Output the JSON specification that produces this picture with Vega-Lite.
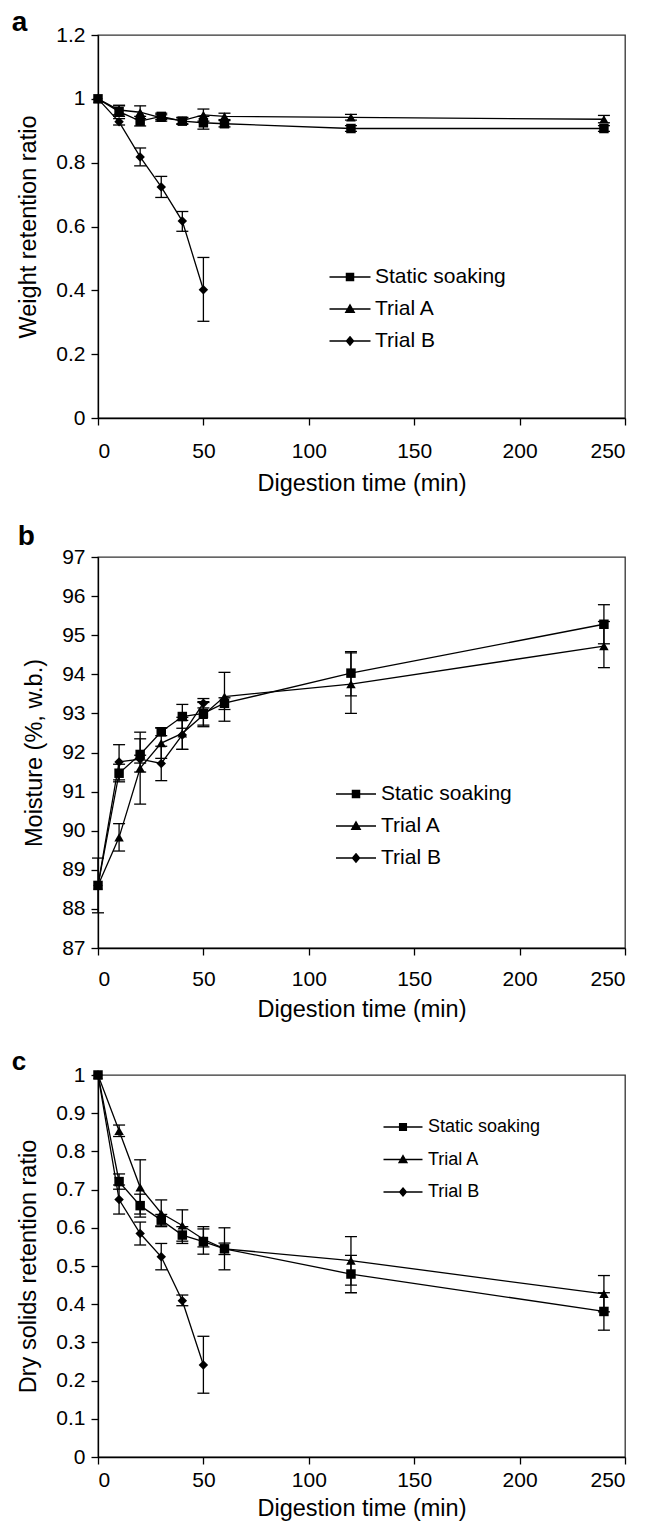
{
  "$schema": "https://vega.github.io/schema/vega-lite/v6.json",
  "padding": {"left": 11, "top": 8, "right": 5, "bottom": 0},
  "background": "white",
  "config": {
    "font": "Liberation Sans",
    "view": {"stroke": "#333", "strokeWidth": 1.3},
    "axis": {"grid": false, "domainColor": "black", "domainWidth": 1.3, "tickColor": "black", "tickWidth": 1.3, "tickSize": 7, "labelColor": "black", "titleColor": "black", "labelFontSize": 21, "titleFontSize": 23.5, "titleFontWeight": "normal", "labelPadding": 6, "labelOverlap": false, "labelFont": "Liberation Sans", "titleFont": "Liberation Sans"},
    "axisY": {"titlePadding": 15},
    "axisX": {"titlePadding": 8},
    "title": {"anchor": "start", "frame": "bounds", "fontSize": 28, "fontWeight": "bold", "font": "Liberation Sans", "color": "black", "baseline": "alphabetic"}
  },
  "datasets": {
    "a": [
      {"s": "Static soaking", "t": 0, "v": 1.0},
      {"s": "Static soaking", "t": 10, "v": 0.96, "lo": 0.945, "hi": 0.978},
      {"s": "Static soaking", "t": 20, "v": 0.93, "lo": 0.915, "hi": 0.945},
      {"s": "Static soaking", "t": 30, "v": 0.945, "lo": 0.935, "hi": 0.955},
      {"s": "Static soaking", "t": 40, "v": 0.93, "lo": 0.92, "hi": 0.94},
      {"s": "Static soaking", "t": 50, "v": 0.925, "lo": 0.905, "hi": 0.945},
      {"s": "Static soaking", "t": 60, "v": 0.922, "lo": 0.912, "hi": 0.932},
      {"s": "Static soaking", "t": 120, "v": 0.907, "lo": 0.898, "hi": 0.916},
      {"s": "Static soaking", "t": 240, "v": 0.907, "lo": 0.898, "hi": 0.916},
      {"s": "Trial A", "t": 0, "v": 1.0},
      {"s": "Trial A", "t": 10, "v": 0.965, "lo": 0.95, "hi": 0.98},
      {"s": "Trial A", "t": 20, "v": 0.958, "lo": 0.938, "hi": 0.978},
      {"s": "Trial A", "t": 30, "v": 0.94, "lo": 0.93, "hi": 0.95},
      {"s": "Trial A", "t": 40, "v": 0.932, "lo": 0.922, "hi": 0.942},
      {"s": "Trial A", "t": 50, "v": 0.95, "lo": 0.93, "hi": 0.968},
      {"s": "Trial A", "t": 60, "v": 0.945, "lo": 0.935, "hi": 0.955},
      {"s": "Trial A", "t": 120, "v": 0.942, "lo": 0.933, "hi": 0.951},
      {"s": "Trial A", "t": 240, "v": 0.936, "lo": 0.925, "hi": 0.948},
      {"s": "Trial B", "t": 0, "v": 1.0},
      {"s": "Trial B", "t": 10, "v": 0.928, "lo": 0.918, "hi": 0.938},
      {"s": "Trial B", "t": 20, "v": 0.818, "lo": 0.79, "hi": 0.846},
      {"s": "Trial B", "t": 30, "v": 0.724, "lo": 0.691, "hi": 0.757},
      {"s": "Trial B", "t": 40, "v": 0.617, "lo": 0.585, "hi": 0.647},
      {"s": "Trial B", "t": 50, "v": 0.402, "lo": 0.303, "hi": 0.503}
    ],
    "b": [
      {"s": "Static soaking", "t": 0, "v": 88.6, "lo": 87.9, "hi": 89.3},
      {"s": "Static soaking", "t": 10, "v": 91.47, "lo": 91.25, "hi": 91.7},
      {"s": "Static soaking", "t": 20, "v": 91.95, "lo": 91.5, "hi": 92.35},
      {"s": "Static soaking", "t": 30, "v": 92.53, "lo": 92.43, "hi": 92.63},
      {"s": "Static soaking", "t": 40, "v": 92.92, "lo": 92.62, "hi": 93.23},
      {"s": "Static soaking", "t": 50, "v": 93.0, "lo": 92.7, "hi": 93.3},
      {"s": "Static soaking", "t": 60, "v": 93.26, "lo": 93.1, "hi": 93.4},
      {"s": "Static soaking", "t": 120, "v": 94.03, "lo": 93.45, "hi": 94.58},
      {"s": "Static soaking", "t": 240, "v": 95.28, "lo": 94.78, "hi": 95.78},
      {"s": "Trial A", "t": 0, "v": 88.6},
      {"s": "Trial A", "t": 10, "v": 89.83, "lo": 89.48, "hi": 90.18},
      {"s": "Trial A", "t": 20, "v": 91.6, "lo": 90.68, "hi": 92.52},
      {"s": "Trial A", "t": 30, "v": 92.24, "lo": 91.85, "hi": 92.63},
      {"s": "Trial A", "t": 40, "v": 92.49, "lo": 92.08, "hi": 92.9},
      {"s": "Trial A", "t": 50, "v": 92.96, "lo": 92.66, "hi": 93.28},
      {"s": "Trial A", "t": 60, "v": 93.43, "lo": 92.8, "hi": 94.05},
      {"s": "Trial A", "t": 120, "v": 93.75, "lo": 93.0, "hi": 94.55},
      {"s": "Trial A", "t": 240, "v": 94.72, "lo": 94.17, "hi": 95.35},
      {"s": "Trial B", "t": 0, "v": 88.6},
      {"s": "Trial B", "t": 10, "v": 91.76, "lo": 91.3, "hi": 92.2},
      {"s": "Trial B", "t": 20, "v": 91.83, "lo": 91.73, "hi": 91.93},
      {"s": "Trial B", "t": 30, "v": 91.72, "lo": 91.28, "hi": 92.16},
      {"s": "Trial B", "t": 40, "v": 92.45, "lo": 92.08, "hi": 92.82},
      {"s": "Trial B", "t": 50, "v": 93.26, "lo": 93.14, "hi": 93.38}
    ],
    "c": [
      {"s": "Static soaking", "t": 0, "v": 1.0},
      {"s": "Static soaking", "t": 10, "v": 0.721, "lo": 0.701, "hi": 0.741},
      {"s": "Static soaking", "t": 20, "v": 0.658, "lo": 0.628, "hi": 0.688},
      {"s": "Static soaking", "t": 30, "v": 0.62, "lo": 0.605, "hi": 0.635},
      {"s": "Static soaking", "t": 40, "v": 0.581, "lo": 0.559, "hi": 0.603},
      {"s": "Static soaking", "t": 50, "v": 0.564, "lo": 0.531, "hi": 0.597},
      {"s": "Static soaking", "t": 60, "v": 0.545, "lo": 0.49, "hi": 0.6},
      {"s": "Static soaking", "t": 120, "v": 0.479, "lo": 0.43, "hi": 0.528},
      {"s": "Static soaking", "t": 240, "v": 0.381, "lo": 0.332, "hi": 0.43},
      {"s": "Trial A", "t": 0, "v": 1.0},
      {"s": "Trial A", "t": 10, "v": 0.854, "lo": 0.839, "hi": 0.869},
      {"s": "Trial A", "t": 20, "v": 0.706, "lo": 0.636, "hi": 0.778},
      {"s": "Trial A", "t": 30, "v": 0.638, "lo": 0.603, "hi": 0.673},
      {"s": "Trial A", "t": 40, "v": 0.606, "lo": 0.565, "hi": 0.647},
      {"s": "Trial A", "t": 50, "v": 0.57, "lo": 0.55, "hi": 0.603},
      {"s": "Trial A", "t": 60, "v": 0.545, "lo": 0.53, "hi": 0.56},
      {"s": "Trial A", "t": 120, "v": 0.514, "lo": 0.45, "hi": 0.577},
      {"s": "Trial A", "t": 240, "v": 0.427, "lo": 0.38, "hi": 0.475},
      {"s": "Trial B", "t": 0, "v": 1.0},
      {"s": "Trial B", "t": 10, "v": 0.674, "lo": 0.636, "hi": 0.712},
      {"s": "Trial B", "t": 20, "v": 0.585, "lo": 0.555, "hi": 0.615},
      {"s": "Trial B", "t": 30, "v": 0.524, "lo": 0.49, "hi": 0.559},
      {"s": "Trial B", "t": 40, "v": 0.409, "lo": 0.396, "hi": 0.424},
      {"s": "Trial B", "t": 50, "v": 0.241, "lo": 0.167, "hi": 0.316}
    ]
  },
  "spacing": 26,
  "vconcat": [
    {
      "title": {"text": "a", "offset": -13, "dx": -5},
      "width": 527, "height": 383,
      "data": {"name": "a"},
      "encoding": {
        "x": {"field": "t", "type": "quantitative", "scale": {"domain": [0, 250], "nice": false}, "axis": {"values": [0, 50, 100, 150, 200, 250], "title": "Digestion time (min)", "labelPadding": 15, "titlePadding": 10}}
      },
      "layer": [
        {"mark": {"type": "line", "color": "black", "strokeWidth": 1.3}, "encoding": {"y": {"field": "v", "type": "quantitative", "scale": {"domain": [0, 1.2], "nice": false}, "axis": {"values": [0, 0.2, 0.4, 0.6, 0.8, 1, 1.2], "format": "~g", "title": "Weight retention ratio"}}, "detail": {"field": "s"}}},
        {"mark": {"type": "rule", "color": "black", "strokeWidth": 1.3}, "encoding": {"y": {"field": "lo", "type": "quantitative", "scale": {"domain": [0, 1.2], "nice": false}, "axis": {"values": [0, 0.2, 0.4, 0.6, 0.8, 1, 1.2], "format": "~g", "title": "Weight retention ratio"}}, "y2": {"field": "hi"}}},
        {"mark": {"type": "tick", "orient": "horizontal", "size": 12, "thickness": 1.3, "color": "black", "opacity": 1}, "encoding": {"y": {"field": "lo", "type": "quantitative", "scale": {"domain": [0, 1.2], "nice": false}, "axis": {"values": [0, 0.2, 0.4, 0.6, 0.8, 1, 1.2], "format": "~g", "title": "Weight retention ratio"}}}},
        {"mark": {"type": "tick", "orient": "horizontal", "size": 12, "thickness": 1.3, "color": "black", "opacity": 1}, "encoding": {"y": {"field": "hi", "type": "quantitative", "scale": {"domain": [0, 1.2], "nice": false}, "axis": {"values": [0, 0.2, 0.4, 0.6, 0.8, 1, 1.2], "format": "~g", "title": "Weight retention ratio"}}}},
        {"mark": {"type": "point", "filled": true, "color": "black", "opacity": 1, "size": 90}, "encoding": {"y": {"field": "v", "type": "quantitative", "scale": {"domain": [0, 1.2], "nice": false}, "axis": {"values": [0, 0.2, 0.4, 0.6, 0.8, 1, 1.2], "format": "~g", "title": "Weight retention ratio"}}, "shape": {"field": "s", "type": "nominal", "scale": {"domain": ["Static soaking", "Trial A", "Trial B"], "range": ["square", "triangle-up", "diamond"]}, "legend": null}}},
        {"mark": {"type": "point", "filled": true, "fill": "black", "stroke": "black", "strokeWidth": 1.3, "opacity": 0, "size": 400}, "encoding": {"y": {"field": "v", "type": "quantitative", "scale": {"domain": [0, 1.2], "nice": false}, "axis": {"values": [0, 0.2, 0.4, 0.6, 0.8, 1, 1.2], "format": "~g", "title": "Weight retention ratio"}}, "shape": {"field": "s", "type": "nominal", "scale": {"domain": ["Static soaking", "Trial A", "Trial B"], "range": ["M-2.05,0H2.05M-0.36,-0.36H0.36V0.36H-0.36Z", "M-2.05,0H2.05M0,-0.43L0.43,0.33L-0.43,0.33Z", "M-2.05,0H2.05M0,-0.43L0.36,0L0,0.43L-0.36,0Z"]}, "legend": {"title": null, "orient": "none", "legendX": 241, "legendY": 231, "labelFontSize": 21, "labelFont": "Liberation Sans", "labelColor": "black", "symbolSize": 400, "symbolStrokeWidth": 1.3, "symbolOpacity": 1, "symbolFillColor": "black", "symbolStrokeColor": "black", "labelOffset": 14, "rowPadding": 11, "padding": 0, "encoding": {"symbols": {"stroke": {"value": "black"}, "strokeWidth": {"value": 1.3}, "fill": {"value": "black"}, "opacity": {"value": 1}}}}}}}
      ],
      "resolve": {"scale": {"shape": "independent"}, "legend": {"shape": "independent"}}
    },
    {
      "title": {"text": "b", "offset": -5, "dx": -5},
      "width": 527, "height": 391,
      "data": {"name": "b"},
      "encoding": {
        "x": {"field": "t", "type": "quantitative", "scale": {"domain": [0, 250], "nice": false}, "axis": {"values": [0, 50, 100, 150, 200, 250], "title": "Digestion time (min)", "labelPadding": 13, "titlePadding": 8}}
      },
      "layer": [
        {"mark": {"type": "line", "color": "black", "strokeWidth": 1.3}, "encoding": {"y": {"field": "v", "type": "quantitative", "scale": {"domain": [87, 97], "nice": false, "zero": false}, "axis": {"values": [87, 88, 89, 90, 91, 92, 93, 94, 95, 96, 97], "format": "~g", "title": "Moisture (%, w.b.)"}}, "detail": {"field": "s"}}},
        {"mark": {"type": "rule", "color": "black", "strokeWidth": 1.3}, "encoding": {"y": {"field": "lo", "type": "quantitative", "scale": {"domain": [87, 97], "nice": false, "zero": false}, "axis": {"values": [87, 88, 89, 90, 91, 92, 93, 94, 95, 96, 97], "format": "~g", "title": "Moisture (%, w.b.)"}}, "y2": {"field": "hi"}}},
        {"mark": {"type": "tick", "orient": "horizontal", "size": 12, "thickness": 1.3, "color": "black", "opacity": 1}, "encoding": {"y": {"field": "lo", "type": "quantitative", "scale": {"domain": [87, 97], "nice": false, "zero": false}, "axis": {"values": [87, 88, 89, 90, 91, 92, 93, 94, 95, 96, 97], "format": "~g", "title": "Moisture (%, w.b.)"}}}},
        {"mark": {"type": "tick", "orient": "horizontal", "size": 12, "thickness": 1.3, "color": "black", "opacity": 1}, "encoding": {"y": {"field": "hi", "type": "quantitative", "scale": {"domain": [87, 97], "nice": false, "zero": false}, "axis": {"values": [87, 88, 89, 90, 91, 92, 93, 94, 95, 96, 97], "format": "~g", "title": "Moisture (%, w.b.)"}}}},
        {"mark": {"type": "point", "filled": true, "color": "black", "opacity": 1, "size": 90}, "encoding": {"y": {"field": "v", "type": "quantitative", "scale": {"domain": [87, 97], "nice": false, "zero": false}, "axis": {"values": [87, 88, 89, 90, 91, 92, 93, 94, 95, 96, 97], "format": "~g", "title": "Moisture (%, w.b.)"}}, "shape": {"field": "s", "type": "nominal", "scale": {"domain": ["Static soaking", "Trial A", "Trial B"], "range": ["square", "triangle-up", "diamond"]}, "legend": null}}},
        {"mark": {"type": "point", "filled": true, "fill": "black", "stroke": "black", "strokeWidth": 1.3, "opacity": 0, "size": 400}, "encoding": {"y": {"field": "v", "type": "quantitative", "scale": {"domain": [87, 97], "nice": false, "zero": false}, "axis": {"values": [87, 88, 89, 90, 91, 92, 93, 94, 95, 96, 97], "format": "~g", "title": "Moisture (%, w.b.)"}}, "shape": {"field": "s", "type": "nominal", "scale": {"domain": ["Static soaking", "Trial A", "Trial B"], "range": ["M-2.0,0H2.0M-0.36,-0.36H0.36V0.36H-0.36Z", "M-2.0,0H2.0M0,-0.43L0.43,0.33L-0.43,0.33Z", "M-2.0,0H2.0M0,-0.43L0.36,0L0,0.43L-0.36,0Z"]}, "legend": {"title": null, "orient": "none", "legendX": 247, "legendY": 226, "labelFontSize": 21, "labelFont": "Liberation Sans", "labelColor": "black", "symbolSize": 400, "symbolStrokeWidth": 1.3, "symbolOpacity": 1, "symbolFillColor": "black", "symbolStrokeColor": "black", "labelOffset": 14, "rowPadding": 11, "padding": 0, "encoding": {"symbols": {"stroke": {"value": "black"}, "strokeWidth": {"value": 1.3}, "fill": {"value": "black"}, "opacity": {"value": 1}}}}}}}
      ],
      "resolve": {"scale": {"shape": "independent"}, "legend": {"shape": "independent"}}
    },
    {
      "title": {"text": "c", "offset": -11, "dx": -5, "fontSize": 26},
      "width": 527, "height": 382,
      "data": {"name": "c"},
      "encoding": {
        "x": {"field": "t", "type": "quantitative", "scale": {"domain": [0, 250], "nice": false}, "axis": {"values": [0, 50, 100, 150, 200, 250], "title": "Digestion time (min)", "labelPadding": 5, "titlePadding": 6}}
      },
      "layer": [
        {"mark": {"type": "line", "color": "black", "strokeWidth": 1.3}, "encoding": {"y": {"field": "v", "type": "quantitative", "scale": {"domain": [0, 1], "nice": false}, "axis": {"values": [0, 0.1, 0.2, 0.3, 0.4, 0.5, 0.6, 0.7, 0.8, 0.9, 1], "format": "~g", "title": "Dry solids retention ratio"}}, "detail": {"field": "s"}}},
        {"mark": {"type": "rule", "color": "black", "strokeWidth": 1.3}, "encoding": {"y": {"field": "lo", "type": "quantitative", "scale": {"domain": [0, 1], "nice": false}, "axis": {"values": [0, 0.1, 0.2, 0.3, 0.4, 0.5, 0.6, 0.7, 0.8, 0.9, 1], "format": "~g", "title": "Dry solids retention ratio"}}, "y2": {"field": "hi"}}},
        {"mark": {"type": "tick", "orient": "horizontal", "size": 12, "thickness": 1.3, "color": "black", "opacity": 1}, "encoding": {"y": {"field": "lo", "type": "quantitative", "scale": {"domain": [0, 1], "nice": false}, "axis": {"values": [0, 0.1, 0.2, 0.3, 0.4, 0.5, 0.6, 0.7, 0.8, 0.9, 1], "format": "~g", "title": "Dry solids retention ratio"}}}},
        {"mark": {"type": "tick", "orient": "horizontal", "size": 12, "thickness": 1.3, "color": "black", "opacity": 1}, "encoding": {"y": {"field": "hi", "type": "quantitative", "scale": {"domain": [0, 1], "nice": false}, "axis": {"values": [0, 0.1, 0.2, 0.3, 0.4, 0.5, 0.6, 0.7, 0.8, 0.9, 1], "format": "~g", "title": "Dry solids retention ratio"}}}},
        {"mark": {"type": "point", "filled": true, "color": "black", "opacity": 1, "size": 90}, "encoding": {"y": {"field": "v", "type": "quantitative", "scale": {"domain": [0, 1], "nice": false}, "axis": {"values": [0, 0.1, 0.2, 0.3, 0.4, 0.5, 0.6, 0.7, 0.8, 0.9, 1], "format": "~g", "title": "Dry solids retention ratio"}}, "shape": {"field": "s", "type": "nominal", "scale": {"domain": ["Static soaking", "Trial A", "Trial B"], "range": ["square", "triangle-up", "diamond"]}, "legend": null}}},
        {"mark": {"type": "point", "filled": true, "fill": "black", "stroke": "black", "strokeWidth": 1.3, "opacity": 0, "size": 400}, "encoding": {"y": {"field": "v", "type": "quantitative", "scale": {"domain": [0, 1], "nice": false}, "axis": {"values": [0, 0.1, 0.2, 0.3, 0.4, 0.5, 0.6, 0.7, 0.8, 0.9, 1], "format": "~g", "title": "Dry solids retention ratio"}}, "shape": {"field": "s", "type": "nominal", "scale": {"domain": ["Static soaking", "Trial A", "Trial B"], "range": ["M-1.95,0H1.95M-0.34,-0.34H0.34V0.34H-0.34Z", "M-1.95,0H1.95M0,-0.4L0.4,0.31L-0.4,0.31Z", "M-1.95,0H1.95M0,-0.4L0.34,0L0,0.4L-0.34,0Z"]}, "legend": {"title": null, "orient": "none", "legendX": 294, "legendY": 41, "labelFontSize": 18, "labelFont": "Liberation Sans", "labelColor": "black", "symbolSize": 400, "symbolStrokeWidth": 1.3, "symbolOpacity": 1, "symbolFillColor": "black", "symbolStrokeColor": "black", "labelOffset": 14, "rowPadding": 12.5, "padding": 0, "encoding": {"symbols": {"stroke": {"value": "black"}, "strokeWidth": {"value": 1.3}, "fill": {"value": "black"}, "opacity": {"value": 1}}}}}}}
      ],
      "resolve": {"scale": {"shape": "independent"}, "legend": {"shape": "independent"}}
    }
  ]
}
